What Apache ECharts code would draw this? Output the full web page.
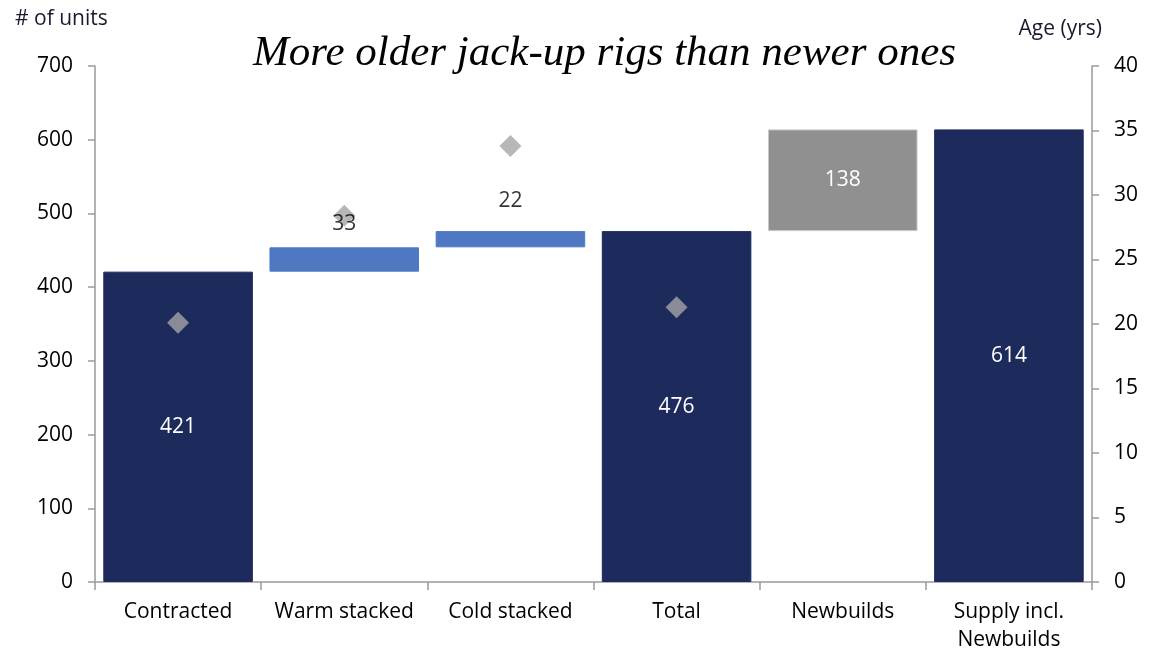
<!DOCTYPE html>
<html>
<head>
<meta charset="utf-8">
<script src="https://cdn.jsdelivr.net/npm/echarts@6/dist/echarts.min.js"></script>
<style>
  html, body { margin: 0; padding: 0; background: #fff; }
  #main { width: 1157px; height: 651px; }
</style>
</head>
<body>
<div id="main"></div>
<script>
// categories and values
var categories = ['Contracted', 'Warm stacked', 'Cold stacked', 'Total', 'Newbuilds', 'Supply incl.\nNewbuilds'];
var units = [421, 33, 22, 476, 138, 614];
var offsets = [0, 421, 454, 0, 476, 0];   // invisible base of the waterfall
var ageYears = [20.1, 28.4, 33.8, 21.3, '-', '-'];
var barColors = ['#1c2b5b', '#4f78c3', '#4f78c3', '#1c2b5b', '#909090', '#1c2b5b'];
var labelInside = [true, false, false, true, true, true];
var labelGap = [0, 12, 19, 0, 0, 0];

var myChart = echarts.init(document.getElementById('main'));

var axisFont = 'Open Sans';
var fs = 21;
var txt = '#000';
var axisLine = {show: true, lineStyle: {color: '#9a9a9a', width: 1.5}};
var tick = {show: true, length: 7, lineStyle: {color: '#9a9a9a', width: 1.5}};

// labels of the floating bars sit above the diamonds, so they get their own top layer
var topLabels = units.map(function (v, i) {
    return labelInside[i] ? '-' : {value: offsets[i] + v, label: {formatter: String(v), distance: labelGap[i]}};
});

var option = {
    animation: false,
    backgroundColor: '#fff',
    title: {
        text: 'More older jack-up rigs than newer ones',
        left: 248,
        top: 27,
        textStyle: {
            fontFamily: 'Liberation Serif',
            fontStyle: 'italic',
            fontWeight: 'normal',
            fontSize: 43,
            color: '#000'
        }
    },
    grid: {left: 95, right: 65, top: 66, bottom: 69, outerBoundsMode: 'none', containLabel: false},
    xAxis: {
        type: 'category',
        data: categories,
        axisLine: axisLine,
        axisTick: {show: true, length: 8, lineStyle: {color: '#9a9a9a', width: 1.5}},
        axisLabel: {
            fontFamily: axisFont, fontSize: fs, color: txt,
            margin: 16, lineHeight: 28, interval: 0
        }
    },
    yAxis: [{
        type: 'value',
        name: '# of units',
        nameLocation: 'end',
        nameGap: 36,
        nameTextStyle: {fontFamily: axisFont, fontSize: fs, color: '#1a1a2e', align: 'left', padding: [0, 0, 0, -80]},
        min: 0, max: 700, interval: 100,
        axisLine: axisLine,
        axisTick: tick,
        splitLine: {show: false},
        axisLabel: {fontFamily: axisFont, fontSize: fs, color: txt, margin: 22}
    }, {
        type: 'value',
        name: 'Age (yrs)',
        nameLocation: 'end',
        nameGap: 26,
        nameTextStyle: {fontFamily: axisFont, fontSize: fs, color: '#1a1a2e', align: 'right', padding: [0, -10, 0, 0]},
        min: 0, max: 40, interval: 5,
        position: 'right',
        axisLine: axisLine,
        axisTick: tick,
        splitLine: {show: false},
        axisLabel: {fontFamily: axisFont, fontSize: fs, color: txt, margin: 22}
    }],
    series: [{
        name: 'base',
        type: 'bar',
        stack: 'w',
        barCategoryGap: '10%',
        silent: true,
        itemStyle: {color: 'transparent'},
        data: offsets
    }, {
        name: 'units',
        type: 'bar',
        stack: 'w',
        barCategoryGap: '10%',
        data: units.map(function (v, i) {
            return {
                value: v,
                itemStyle: {color: barColors[i], borderColor: i === 4 ? '#c8c8c8' : barColors[i], borderWidth: 1},
                label: {show: labelInside[i], position: 'inside', color: '#fff', fontFamily: axisFont, fontSize: fs}
            };
        })
    }, {
        name: 'age',
        type: 'scatter',
        yAxisIndex: 1,
        symbol: 'diamond',
        symbolSize: 22,
        itemStyle: {color: '#a5a5a5'},
        z: 3,
        data: ageYears
    }, {
        name: 'labels',
        type: 'scatter',
        symbolSize: 1,
        itemStyle: {color: 'transparent'},
        silent: true,
        zlevel: 1,
        label: {show: true, position: 'top', color: txt, fontFamily: axisFont, fontSize: fs},
        data: topLabels
    }]
};

myChart.setOption(option);
</script>
</body>
</html>
